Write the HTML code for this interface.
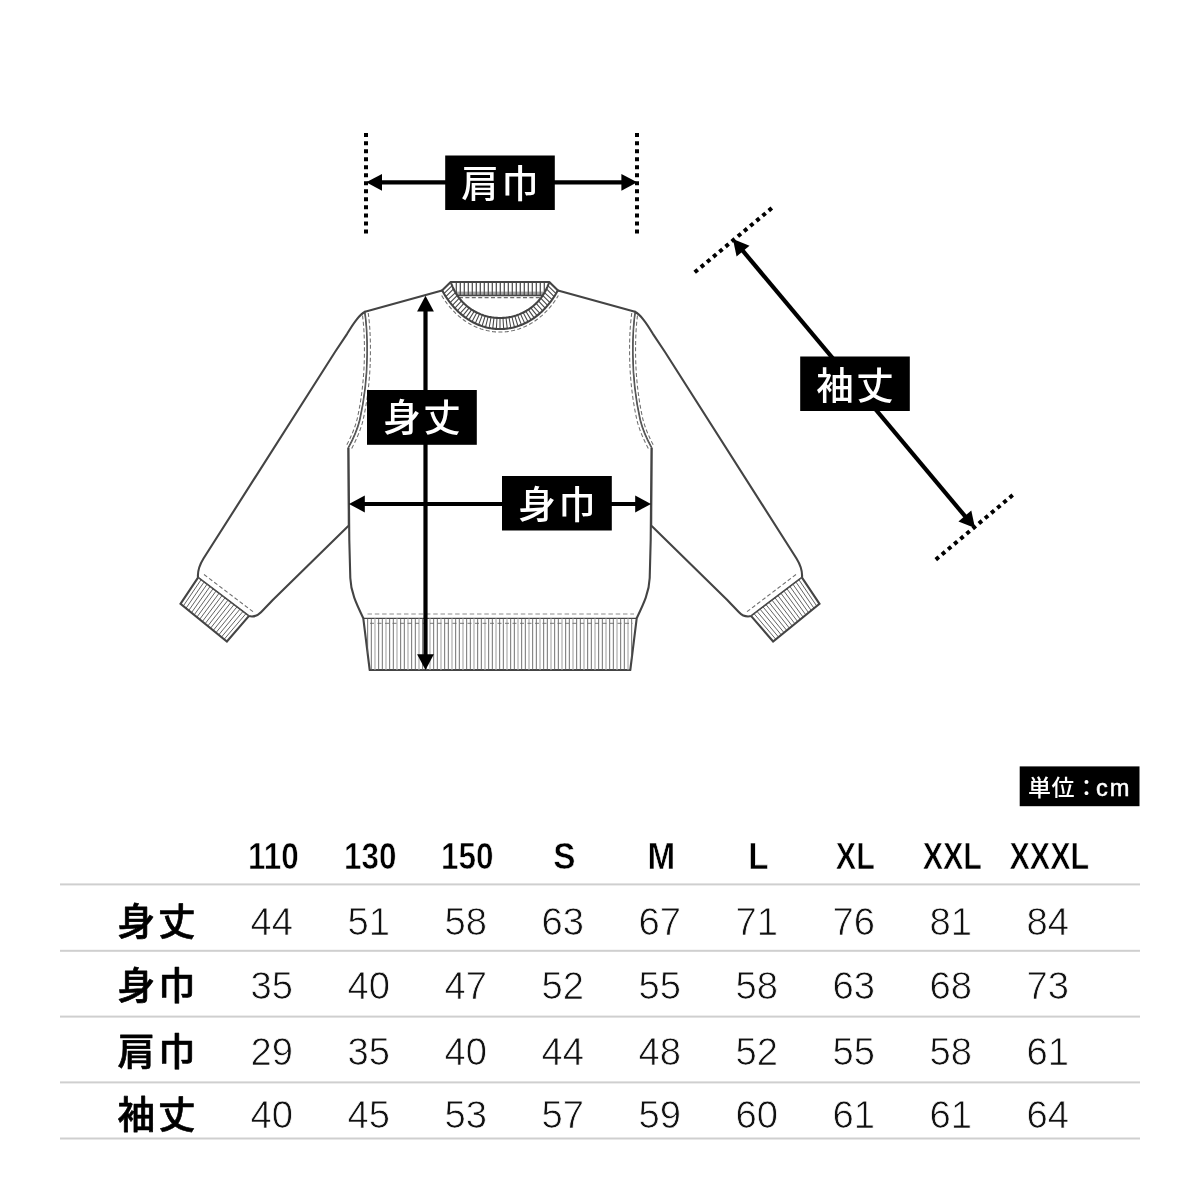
<!DOCTYPE html>
<html lang="ja">
<head>
<meta charset="utf-8">
<title>サイズ表</title>
<style>
html,body{margin:0;padding:0;background:#fff;}
body{width:1200px;height:1200px;overflow:hidden;font-family:"Liberation Sans", "Noto Sans CJK JP", sans-serif;}
svg{display:block;will-change:transform;filter:grayscale(1);}
svg text{font-family:"Liberation Sans", "Noto Sans CJK JP", sans-serif;}
</style>
</head>
<body>
<svg width="1200" height="1200" viewBox="0 0 1200 1200">
<rect width="1200" height="1200" fill="#fff"/>
<g id="garment">
<path d="M365,311.7 C361.5,313.5 359,316.5 356.8,319.3 C353,324 350,329 347.1,333.8 L335,352 L203.5,558.5 C199.5,565 197.3,570 198,577.6 L248.8,616.1 C254,617.3 258,615.5 261,612.3 C265,608 269,604 272.5,600.2 L348.8,525.5 L348.5,448 C354,438 358,428 360,420 C365,398 367.2,375 367.4,355 C367.6,340 367,325 365,311.7 Z" fill="#fff" stroke="#444" stroke-width="2.1" stroke-linejoin="round"/>
<path d="M198,577.6 L180.5,603.9 L226.9,641.5 L248.8,616.1 Z" fill="#fff" stroke="none"/>
<line x1="200.99" y1="579.86" x2="183.23" y2="606.11" stroke="#5a5a5a" stroke-width="0.95"/>
<line x1="203.98" y1="582.13" x2="185.96" y2="608.32" stroke="#5a5a5a" stroke-width="0.95"/>
<line x1="206.96" y1="584.39" x2="188.69" y2="610.54" stroke="#5a5a5a" stroke-width="0.95"/>
<line x1="209.95" y1="586.66" x2="191.42" y2="612.75" stroke="#5a5a5a" stroke-width="0.95"/>
<line x1="212.94" y1="588.92" x2="194.15" y2="614.96" stroke="#5a5a5a" stroke-width="0.95"/>
<line x1="215.93" y1="591.19" x2="196.88" y2="617.17" stroke="#5a5a5a" stroke-width="0.95"/>
<line x1="218.92" y1="593.45" x2="199.61" y2="619.38" stroke="#5a5a5a" stroke-width="0.95"/>
<line x1="221.91" y1="595.72" x2="202.34" y2="621.59" stroke="#5a5a5a" stroke-width="0.95"/>
<line x1="224.89" y1="597.98" x2="205.06" y2="623.81" stroke="#5a5a5a" stroke-width="0.95"/>
<line x1="227.88" y1="600.25" x2="207.79" y2="626.02" stroke="#5a5a5a" stroke-width="0.95"/>
<line x1="230.87" y1="602.51" x2="210.52" y2="628.23" stroke="#5a5a5a" stroke-width="0.95"/>
<line x1="233.86" y1="604.78" x2="213.25" y2="630.44" stroke="#5a5a5a" stroke-width="0.95"/>
<line x1="236.85" y1="607.04" x2="215.98" y2="632.65" stroke="#5a5a5a" stroke-width="0.95"/>
<line x1="239.84" y1="609.31" x2="218.71" y2="634.86" stroke="#5a5a5a" stroke-width="0.95"/>
<line x1="242.82" y1="611.57" x2="221.44" y2="637.08" stroke="#5a5a5a" stroke-width="0.95"/>
<line x1="245.81" y1="613.84" x2="224.17" y2="639.29" stroke="#5a5a5a" stroke-width="0.95"/>
<path d="M198,577.6 L248.8,616.1" fill="none" stroke="#444" stroke-width="1.1"/>
<path d="M198,577.6 L180.5,603.9 L226.9,641.5 L248.8,616.1" fill="none" stroke="#444" stroke-width="2.1" stroke-linejoin="miter"/>
<path d="M204,574.5 L253,611.7" fill="none" stroke="#6e6e6e" stroke-width="1.05" stroke-dasharray="4 2.4"/>
<g transform="translate(1000,0) scale(-1,1)"><path d="M365,311.7 C361.5,313.5 359,316.5 356.8,319.3 C353,324 350,329 347.1,333.8 L335,352 L203.5,558.5 C199.5,565 197.3,570 198,577.6 L248.8,616.1 C254,617.3 258,615.5 261,612.3 C265,608 269,604 272.5,600.2 L348.8,525.5 L348.5,448 C354,438 358,428 360,420 C365,398 367.2,375 367.4,355 C367.6,340 367,325 365,311.7 Z" fill="#fff" stroke="#444" stroke-width="2.1" stroke-linejoin="round"/>
<path d="M198,577.6 L180.5,603.9 L226.9,641.5 L248.8,616.1 Z" fill="#fff" stroke="none"/>
<line x1="200.99" y1="579.86" x2="183.23" y2="606.11" stroke="#5a5a5a" stroke-width="0.95"/>
<line x1="203.98" y1="582.13" x2="185.96" y2="608.32" stroke="#5a5a5a" stroke-width="0.95"/>
<line x1="206.96" y1="584.39" x2="188.69" y2="610.54" stroke="#5a5a5a" stroke-width="0.95"/>
<line x1="209.95" y1="586.66" x2="191.42" y2="612.75" stroke="#5a5a5a" stroke-width="0.95"/>
<line x1="212.94" y1="588.92" x2="194.15" y2="614.96" stroke="#5a5a5a" stroke-width="0.95"/>
<line x1="215.93" y1="591.19" x2="196.88" y2="617.17" stroke="#5a5a5a" stroke-width="0.95"/>
<line x1="218.92" y1="593.45" x2="199.61" y2="619.38" stroke="#5a5a5a" stroke-width="0.95"/>
<line x1="221.91" y1="595.72" x2="202.34" y2="621.59" stroke="#5a5a5a" stroke-width="0.95"/>
<line x1="224.89" y1="597.98" x2="205.06" y2="623.81" stroke="#5a5a5a" stroke-width="0.95"/>
<line x1="227.88" y1="600.25" x2="207.79" y2="626.02" stroke="#5a5a5a" stroke-width="0.95"/>
<line x1="230.87" y1="602.51" x2="210.52" y2="628.23" stroke="#5a5a5a" stroke-width="0.95"/>
<line x1="233.86" y1="604.78" x2="213.25" y2="630.44" stroke="#5a5a5a" stroke-width="0.95"/>
<line x1="236.85" y1="607.04" x2="215.98" y2="632.65" stroke="#5a5a5a" stroke-width="0.95"/>
<line x1="239.84" y1="609.31" x2="218.71" y2="634.86" stroke="#5a5a5a" stroke-width="0.95"/>
<line x1="242.82" y1="611.57" x2="221.44" y2="637.08" stroke="#5a5a5a" stroke-width="0.95"/>
<line x1="245.81" y1="613.84" x2="224.17" y2="639.29" stroke="#5a5a5a" stroke-width="0.95"/>
<path d="M198,577.6 L248.8,616.1" fill="none" stroke="#444" stroke-width="1.1"/>
<path d="M198,577.6 L180.5,603.9 L226.9,641.5 L248.8,616.1" fill="none" stroke="#444" stroke-width="2.1" stroke-linejoin="miter"/>
<path d="M204,574.5 L253,611.7" fill="none" stroke="#6e6e6e" stroke-width="1.05" stroke-dasharray="4 2.4"/></g>
<path d="M442,290.5 L365,311.7 C367,325 367.6,340 367.4,355 C367.2,375 365,398 360,420 C358,428 354,438 348.5,448 L349.3,540 L350.3,578 C350.8,592 356,603 363.3,618.3 L369.7,670 L630.3,670 L636.7,618.3 C644,603 649.2,592 649.7,578 L650.7,540 L651.5,448 C646,438 642,428 640,420 C635,398 632.8,375 632.6,355 C632.4,340 633,325 635,311.7 L558,290.5 L549.3,282 L450.7,282 Z" fill="#fff" stroke="none"/>
<g fill="none">
<path d="M365,311.7 C367,325 367.6,340 367.4,355 C367.2,375 365,398 360,420 C358,428 354,438 348.5,448" stroke="#5a5a5a" stroke-width="1.2"/>
<path d="M362.5,315.45 L362.71,317.12 L362.9,318.82 L363.09,320.53 L363.26,322.25 L363.42,323.99 L363.57,325.74 L363.7,327.51 L363.82,329.28 L363.93,331.07 L364.03,332.87 L364.12,334.67 L364.19,336.49 L364.26,338.31 L364.31,340.14 L364.36,341.98 L364.39,343.82 L364.42,345.67 L364.43,347.52 L364.44,349.38 L364.43,351.24 L364.42,353.1 L364.4,354.96 L364.37,357.46 L364.31,359.98 L364.23,362.53 L364.13,365.1 L364.01,367.7 L363.87,370.32 L363.7,372.97 L363.51,375.63 L363.3,378.3 L363.06,381 L362.8,383.71 L362.52,386.42 L362.21,389.15 L361.87,391.89 L361.51,394.64 L361.13,397.38 L360.72,400.14 L360.28,402.89 L359.81,405.64 L359.32,408.39 L358.8,411.14 L358.25,413.88 L357.68,416.61 L357.08,419.32 L356.84,420.24 L356.57,421.23 L356.28,422.24 L355.97,423.27 L355.64,424.32 L355.29,425.39 L354.92,426.48 L354.53,427.58 L354.12,428.69 L353.69,429.82 L353.25,430.96 L352.78,432.12 L352.3,433.28 L351.8,434.46 L351.29,435.64 L350.75,436.83 L350.2,438.03 L349.63,439.24 L349.04,440.45 L348.44,441.66 L347.82,442.88 L347.19,444.11 L346.54,445.33" stroke="#6e6e6e" stroke-width="1.05" stroke-dasharray="4 2.4"/>
<path d="M368.21,312.95 L368.45,314.67 L368.66,316.4 L368.87,318.15 L369.06,319.91 L369.23,321.68 L369.4,323.47 L369.55,325.27 L369.68,327.07 L369.81,328.89 L369.92,330.72 L370.02,332.56 L370.11,334.4 L370.19,336.26 L370.25,338.12 L370.31,339.98 L370.36,341.85 L370.39,343.73 L370.42,345.61 L370.43,347.49 L370.44,349.38 L370.43,351.26 L370.42,353.15 L370.4,355.04 L370.36,357.57 L370.31,360.14 L370.23,362.74 L370.13,365.36 L370,368.01 L369.86,370.68 L369.69,373.37 L369.5,376.08 L369.28,378.8 L369.04,381.55 L368.77,384.31 L368.48,387.08 L368.17,389.86 L367.83,392.65 L367.46,395.44 L367.07,398.25 L366.65,401.05 L366.2,403.86 L365.72,406.67 L365.22,409.48 L364.69,412.28 L364.13,415.08 L363.54,417.88 L362.92,420.68 L362.64,421.78 L362.35,422.85 L362.04,423.94 L361.7,425.04 L361.35,426.16 L360.98,427.3 L360.59,428.44 L360.17,429.61 L359.74,430.78 L359.29,431.97 L358.83,433.17 L358.34,434.38 L357.84,435.6 L357.31,436.83 L356.77,438.07 L356.21,439.32 L355.64,440.57 L355.04,441.82 L354.43,443.09 L353.8,444.35 L353.16,445.62 L352.5,446.9 L351.82,448.17 L351.14,449.43" stroke="#6e6e6e" stroke-width="1.05" stroke-dasharray="4 2.4"/>
<path d="M442,290.5 L365,311.7" stroke="#444" stroke-width="2.1" stroke-linecap="round"/>
<path d="M348.5,448 L349.3,540 L350.3,578 C350.8,592 356,603 363.3,618.3 L369.7,670 L500,670" stroke="#444" stroke-width="2.1" stroke-linejoin="round"/>
</g>
<g transform="translate(1000,0) scale(-1,1)" fill="none">
<path d="M365,311.7 C367,325 367.6,340 367.4,355 C367.2,375 365,398 360,420 C358,428 354,438 348.5,448" stroke="#5a5a5a" stroke-width="1.2"/>
<path d="M362.5,315.45 L362.71,317.12 L362.9,318.82 L363.09,320.53 L363.26,322.25 L363.42,323.99 L363.57,325.74 L363.7,327.51 L363.82,329.28 L363.93,331.07 L364.03,332.87 L364.12,334.67 L364.19,336.49 L364.26,338.31 L364.31,340.14 L364.36,341.98 L364.39,343.82 L364.42,345.67 L364.43,347.52 L364.44,349.38 L364.43,351.24 L364.42,353.1 L364.4,354.96 L364.37,357.46 L364.31,359.98 L364.23,362.53 L364.13,365.1 L364.01,367.7 L363.87,370.32 L363.7,372.97 L363.51,375.63 L363.3,378.3 L363.06,381 L362.8,383.71 L362.52,386.42 L362.21,389.15 L361.87,391.89 L361.51,394.64 L361.13,397.38 L360.72,400.14 L360.28,402.89 L359.81,405.64 L359.32,408.39 L358.8,411.14 L358.25,413.88 L357.68,416.61 L357.08,419.32 L356.84,420.24 L356.57,421.23 L356.28,422.24 L355.97,423.27 L355.64,424.32 L355.29,425.39 L354.92,426.48 L354.53,427.58 L354.12,428.69 L353.69,429.82 L353.25,430.96 L352.78,432.12 L352.3,433.28 L351.8,434.46 L351.29,435.64 L350.75,436.83 L350.2,438.03 L349.63,439.24 L349.04,440.45 L348.44,441.66 L347.82,442.88 L347.19,444.11 L346.54,445.33" stroke="#6e6e6e" stroke-width="1.05" stroke-dasharray="4 2.4"/>
<path d="M368.21,312.95 L368.45,314.67 L368.66,316.4 L368.87,318.15 L369.06,319.91 L369.23,321.68 L369.4,323.47 L369.55,325.27 L369.68,327.07 L369.81,328.89 L369.92,330.72 L370.02,332.56 L370.11,334.4 L370.19,336.26 L370.25,338.12 L370.31,339.98 L370.36,341.85 L370.39,343.73 L370.42,345.61 L370.43,347.49 L370.44,349.38 L370.43,351.26 L370.42,353.15 L370.4,355.04 L370.36,357.57 L370.31,360.14 L370.23,362.74 L370.13,365.36 L370,368.01 L369.86,370.68 L369.69,373.37 L369.5,376.08 L369.28,378.8 L369.04,381.55 L368.77,384.31 L368.48,387.08 L368.17,389.86 L367.83,392.65 L367.46,395.44 L367.07,398.25 L366.65,401.05 L366.2,403.86 L365.72,406.67 L365.22,409.48 L364.69,412.28 L364.13,415.08 L363.54,417.88 L362.92,420.68 L362.64,421.78 L362.35,422.85 L362.04,423.94 L361.7,425.04 L361.35,426.16 L360.98,427.3 L360.59,428.44 L360.17,429.61 L359.74,430.78 L359.29,431.97 L358.83,433.17 L358.34,434.38 L357.84,435.6 L357.31,436.83 L356.77,438.07 L356.21,439.32 L355.64,440.57 L355.04,441.82 L354.43,443.09 L353.8,444.35 L353.16,445.62 L352.5,446.9 L351.82,448.17 L351.14,449.43" stroke="#6e6e6e" stroke-width="1.05" stroke-dasharray="4 2.4"/>
<path d="M442,290.5 L365,311.7" stroke="#444" stroke-width="2.1" stroke-linecap="round"/>
<path d="M348.5,448 L349.3,540 L350.3,578 C350.8,592 356,603 363.3,618.3 L369.7,670 L500,670" stroke="#444" stroke-width="2.1" stroke-linejoin="round"/>
</g>
<path d="M363.3,618.3 L636.7,618.3" fill="none" stroke="#444" stroke-width="1.3"/>
<path d="M367.5,614 L634,614" fill="none" stroke="#8e8e8e" stroke-width="1.2" stroke-dasharray="4.5 2.8"/>
<line x1="367.65" y1="618.3" x2="367.65" y2="653.44" stroke="#585858" stroke-width="0.85"/>
<line x1="371.32" y1="618.3" x2="371.32" y2="670" stroke="#585858" stroke-width="0.85"/>
<line x1="374.98" y1="618.3" x2="374.98" y2="670" stroke="#a6a6a6" stroke-width="1.1"/>
<line x1="378.65" y1="618.3" x2="378.65" y2="670" stroke="#585858" stroke-width="0.85"/>
<line x1="382.32" y1="618.3" x2="382.32" y2="670" stroke="#585858" stroke-width="0.85"/>
<line x1="385.98" y1="618.3" x2="385.98" y2="670" stroke="#a6a6a6" stroke-width="1.1"/>
<line x1="389.65" y1="618.3" x2="389.65" y2="670" stroke="#585858" stroke-width="0.85"/>
<line x1="393.32" y1="618.3" x2="393.32" y2="670" stroke="#585858" stroke-width="0.85"/>
<line x1="396.99" y1="618.3" x2="396.99" y2="670" stroke="#a6a6a6" stroke-width="1.1"/>
<line x1="400.65" y1="618.3" x2="400.65" y2="670" stroke="#585858" stroke-width="0.85"/>
<line x1="404.32" y1="618.3" x2="404.32" y2="670" stroke="#585858" stroke-width="0.85"/>
<line x1="407.99" y1="618.3" x2="407.99" y2="670" stroke="#a6a6a6" stroke-width="1.1"/>
<line x1="411.65" y1="618.3" x2="411.65" y2="670" stroke="#585858" stroke-width="0.85"/>
<line x1="415.32" y1="618.3" x2="415.32" y2="670" stroke="#585858" stroke-width="0.85"/>
<line x1="418.99" y1="618.3" x2="418.99" y2="670" stroke="#a6a6a6" stroke-width="1.1"/>
<line x1="422.65" y1="618.3" x2="422.65" y2="670" stroke="#585858" stroke-width="0.85"/>
<line x1="426.32" y1="618.3" x2="426.32" y2="670" stroke="#585858" stroke-width="0.85"/>
<line x1="429.99" y1="618.3" x2="429.99" y2="670" stroke="#a6a6a6" stroke-width="1.1"/>
<line x1="433.66" y1="618.3" x2="433.66" y2="670" stroke="#585858" stroke-width="0.85"/>
<line x1="437.32" y1="618.3" x2="437.32" y2="670" stroke="#585858" stroke-width="0.85"/>
<line x1="440.99" y1="618.3" x2="440.99" y2="670" stroke="#a6a6a6" stroke-width="1.1"/>
<line x1="444.66" y1="618.3" x2="444.66" y2="670" stroke="#585858" stroke-width="0.85"/>
<line x1="448.32" y1="618.3" x2="448.32" y2="670" stroke="#585858" stroke-width="0.85"/>
<line x1="451.99" y1="618.3" x2="451.99" y2="670" stroke="#a6a6a6" stroke-width="1.1"/>
<line x1="455.66" y1="618.3" x2="455.66" y2="670" stroke="#585858" stroke-width="0.85"/>
<line x1="459.32" y1="618.3" x2="459.32" y2="670" stroke="#585858" stroke-width="0.85"/>
<line x1="462.99" y1="618.3" x2="462.99" y2="670" stroke="#a6a6a6" stroke-width="1.1"/>
<line x1="466.66" y1="618.3" x2="466.66" y2="670" stroke="#585858" stroke-width="0.85"/>
<line x1="470.33" y1="618.3" x2="470.33" y2="670" stroke="#585858" stroke-width="0.85"/>
<line x1="473.99" y1="618.3" x2="473.99" y2="670" stroke="#a6a6a6" stroke-width="1.1"/>
<line x1="477.66" y1="618.3" x2="477.66" y2="670" stroke="#585858" stroke-width="0.85"/>
<line x1="481.33" y1="618.3" x2="481.33" y2="670" stroke="#585858" stroke-width="0.85"/>
<line x1="484.99" y1="618.3" x2="484.99" y2="670" stroke="#a6a6a6" stroke-width="1.1"/>
<line x1="488.66" y1="618.3" x2="488.66" y2="670" stroke="#585858" stroke-width="0.85"/>
<line x1="492.33" y1="618.3" x2="492.33" y2="670" stroke="#585858" stroke-width="0.85"/>
<line x1="496" y1="618.3" x2="496" y2="670" stroke="#a6a6a6" stroke-width="1.1"/>
<line x1="499.66" y1="618.3" x2="499.66" y2="670" stroke="#585858" stroke-width="0.85"/>
<line x1="503.33" y1="618.3" x2="503.33" y2="670" stroke="#585858" stroke-width="0.85"/>
<line x1="507" y1="618.3" x2="507" y2="670" stroke="#a6a6a6" stroke-width="1.1"/>
<line x1="510.66" y1="618.3" x2="510.66" y2="670" stroke="#585858" stroke-width="0.85"/>
<line x1="514.33" y1="618.3" x2="514.33" y2="670" stroke="#585858" stroke-width="0.85"/>
<line x1="518" y1="618.3" x2="518" y2="670" stroke="#a6a6a6" stroke-width="1.1"/>
<line x1="521.66" y1="618.3" x2="521.66" y2="670" stroke="#585858" stroke-width="0.85"/>
<line x1="525.33" y1="618.3" x2="525.33" y2="670" stroke="#585858" stroke-width="0.85"/>
<line x1="529" y1="618.3" x2="529" y2="670" stroke="#a6a6a6" stroke-width="1.1"/>
<line x1="532.66" y1="618.3" x2="532.66" y2="670" stroke="#585858" stroke-width="0.85"/>
<line x1="536.33" y1="618.3" x2="536.33" y2="670" stroke="#585858" stroke-width="0.85"/>
<line x1="540" y1="618.3" x2="540" y2="670" stroke="#a6a6a6" stroke-width="1.1"/>
<line x1="543.67" y1="618.3" x2="543.67" y2="670" stroke="#585858" stroke-width="0.85"/>
<line x1="547.33" y1="618.3" x2="547.33" y2="670" stroke="#585858" stroke-width="0.85"/>
<line x1="551" y1="618.3" x2="551" y2="670" stroke="#a6a6a6" stroke-width="1.1"/>
<line x1="554.67" y1="618.3" x2="554.67" y2="670" stroke="#585858" stroke-width="0.85"/>
<line x1="558.33" y1="618.3" x2="558.33" y2="670" stroke="#585858" stroke-width="0.85"/>
<line x1="562" y1="618.3" x2="562" y2="670" stroke="#a6a6a6" stroke-width="1.1"/>
<line x1="565.67" y1="618.3" x2="565.67" y2="670" stroke="#585858" stroke-width="0.85"/>
<line x1="569.34" y1="618.3" x2="569.34" y2="670" stroke="#585858" stroke-width="0.85"/>
<line x1="573" y1="618.3" x2="573" y2="670" stroke="#a6a6a6" stroke-width="1.1"/>
<line x1="576.67" y1="618.3" x2="576.67" y2="670" stroke="#585858" stroke-width="0.85"/>
<line x1="580.34" y1="618.3" x2="580.34" y2="670" stroke="#585858" stroke-width="0.85"/>
<line x1="584" y1="618.3" x2="584" y2="670" stroke="#a6a6a6" stroke-width="1.1"/>
<line x1="587.67" y1="618.3" x2="587.67" y2="670" stroke="#585858" stroke-width="0.85"/>
<line x1="591.34" y1="618.3" x2="591.34" y2="670" stroke="#585858" stroke-width="0.85"/>
<line x1="595" y1="618.3" x2="595" y2="670" stroke="#a6a6a6" stroke-width="1.1"/>
<line x1="598.67" y1="618.3" x2="598.67" y2="670" stroke="#585858" stroke-width="0.85"/>
<line x1="602.34" y1="618.3" x2="602.34" y2="670" stroke="#585858" stroke-width="0.85"/>
<line x1="606" y1="618.3" x2="606" y2="670" stroke="#a6a6a6" stroke-width="1.1"/>
<line x1="609.67" y1="618.3" x2="609.67" y2="670" stroke="#585858" stroke-width="0.85"/>
<line x1="613.34" y1="618.3" x2="613.34" y2="670" stroke="#585858" stroke-width="0.85"/>
<line x1="617.01" y1="618.3" x2="617.01" y2="670" stroke="#a6a6a6" stroke-width="1.1"/>
<line x1="620.67" y1="618.3" x2="620.67" y2="670" stroke="#585858" stroke-width="0.85"/>
<line x1="624.34" y1="618.3" x2="624.34" y2="670" stroke="#585858" stroke-width="0.85"/>
<line x1="628.01" y1="618.3" x2="628.01" y2="670" stroke="#a6a6a6" stroke-width="1.1"/>
<line x1="631.67" y1="618.3" x2="631.67" y2="658.9" stroke="#585858" stroke-width="0.85"/>
<path d="M370,623.3 L633,623.3" fill="none" stroke="#6a6a6a" stroke-width="0.9" stroke-dasharray="4 3.5"/>
<path d="M450.7,282 L549.3,282 L543,295.5 L457,295.5 Z" fill="#fff" stroke="none"/>
<rect x="457" y="291.6" width="86" height="3.6" fill="#a5a5a5"/>
<line x1="456.3" y1="282" x2="456.3" y2="295.5" stroke="#4c4c4c" stroke-width="1.25"/>
<line x1="460.3" y1="282" x2="460.3" y2="295.5" stroke="#4c4c4c" stroke-width="1.25"/>
<line x1="464.3" y1="282" x2="464.3" y2="295.5" stroke="#4c4c4c" stroke-width="1.25"/>
<line x1="468.3" y1="282" x2="468.3" y2="295.5" stroke="#4c4c4c" stroke-width="1.25"/>
<line x1="472.3" y1="282" x2="472.3" y2="295.5" stroke="#4c4c4c" stroke-width="1.25"/>
<line x1="476.3" y1="282" x2="476.3" y2="295.5" stroke="#4c4c4c" stroke-width="1.25"/>
<line x1="480.3" y1="282" x2="480.3" y2="295.5" stroke="#4c4c4c" stroke-width="1.25"/>
<line x1="484.3" y1="282" x2="484.3" y2="295.5" stroke="#4c4c4c" stroke-width="1.25"/>
<line x1="488.3" y1="282" x2="488.3" y2="295.5" stroke="#4c4c4c" stroke-width="1.25"/>
<line x1="492.3" y1="282" x2="492.3" y2="295.5" stroke="#4c4c4c" stroke-width="1.25"/>
<line x1="496.3" y1="282" x2="496.3" y2="295.5" stroke="#4c4c4c" stroke-width="1.25"/>
<line x1="500.3" y1="282" x2="500.3" y2="295.5" stroke="#4c4c4c" stroke-width="1.25"/>
<line x1="504.3" y1="282" x2="504.3" y2="295.5" stroke="#4c4c4c" stroke-width="1.25"/>
<line x1="508.3" y1="282" x2="508.3" y2="295.5" stroke="#4c4c4c" stroke-width="1.25"/>
<line x1="512.3" y1="282" x2="512.3" y2="295.5" stroke="#4c4c4c" stroke-width="1.25"/>
<line x1="516.3" y1="282" x2="516.3" y2="295.5" stroke="#4c4c4c" stroke-width="1.25"/>
<line x1="520.3" y1="282" x2="520.3" y2="295.5" stroke="#4c4c4c" stroke-width="1.25"/>
<line x1="524.3" y1="282" x2="524.3" y2="295.5" stroke="#4c4c4c" stroke-width="1.25"/>
<line x1="528.3" y1="282" x2="528.3" y2="295.5" stroke="#4c4c4c" stroke-width="1.25"/>
<line x1="532.3" y1="282" x2="532.3" y2="295.5" stroke="#4c4c4c" stroke-width="1.25"/>
<line x1="536.3" y1="282" x2="536.3" y2="295.5" stroke="#4c4c4c" stroke-width="1.25"/>
<line x1="540.3" y1="282" x2="540.3" y2="295.5" stroke="#4c4c4c" stroke-width="1.25"/>
<line x1="544.3" y1="282" x2="544.3" y2="295.5" stroke="#4c4c4c" stroke-width="1.25"/>
<path d="M450.7,282 L549.3,282" fill="none" stroke="#444" stroke-width="2.1"/>
<path d="M456,295.5 L544,295.5" fill="none" stroke="#444" stroke-width="1.5"/>
<path d="M459,297.6 L541,297.6" fill="none" stroke="#6e6e6e" stroke-width="1.05" stroke-dasharray="4 2.4"/>
<path d="M442.09,290.35 L442.79,291.6 L443.5,292.83 L444.21,294.04 L444.94,295.22 L445.68,296.38 L446.43,297.53 L447.19,298.65 L447.96,299.75 L448.74,300.82 L449.53,301.88 L450.33,302.92 L451.15,303.94 L451.97,304.94 L452.8,305.91 L453.64,306.87 L454.49,307.81 L455.35,308.73 L456.22,309.63 L457.1,310.51 L457.99,311.37 L458.89,312.22 L459.8,313.04 L460.72,313.84 L461.65,314.63 L462.58,315.39 L463.53,316.14 L464.49,316.87 L465.45,317.57 L466.43,318.26 L467.41,318.93 L468.4,319.58 L469.4,320.2 L470.41,320.81 L471.43,321.4 L472.46,321.97 L473.49,322.51 L474.53,323.04 L475.58,323.54 L476.64,324.03 L477.7,324.49 L478.77,324.93 L479.85,325.35 L480.93,325.75 L482.02,326.12 L483.11,326.48 L484.21,326.81 L485.32,327.12 L486.43,327.4 L487.54,327.67 L488.66,327.91 L489.79,328.13 L490.91,328.33 L492.04,328.5 L493.17,328.65 L494.31,328.78 L495.44,328.88 L496.58,328.97 L497.72,329.02 L498.86,329.06 L500,329.07 L501.14,329.06 L502.28,329.02 L503.42,328.97 L504.56,328.88 L505.69,328.78 L506.83,328.65 L507.96,328.5 L509.09,328.33 L510.21,328.13 L511.34,327.91 L512.46,327.67 L513.57,327.4 L514.68,327.12 L515.79,326.81 L516.89,326.48 L517.98,326.12 L519.07,325.75 L520.15,325.35 L521.23,324.93 L522.3,324.49 L523.36,324.03 L524.42,323.54 L525.47,323.04 L526.51,322.51 L527.54,321.97 L528.57,321.4 L529.59,320.81 L530.6,320.2 L531.6,319.58 L532.59,318.93 L533.57,318.26 L534.55,317.57 L535.51,316.87 L536.47,316.14 L537.42,315.39 L538.35,314.63 L539.28,313.84 L540.2,313.04 L541.11,312.22 L542.01,311.37 L542.9,310.51 L543.78,309.63 L544.65,308.73 L545.51,307.81 L546.36,306.87 L547.2,305.91 L548.03,304.94 L548.85,303.94 L549.67,302.92 L550.47,301.88 L551.26,300.82 L552.04,299.75 L552.81,298.65 L553.57,297.53 L554.32,296.38 L555.06,295.22 L555.79,294.04 L556.5,292.83 L557.21,291.6 L557.91,290.35 L549.1,282.3 L548.69,283.52 L548.25,284.72 L547.78,285.91 L547.3,287.07 L546.78,288.21 L546.25,289.34 L545.69,290.44 L545.11,291.52 L544.5,292.58 L543.88,293.61 L543.24,294.63 L542.58,295.62 L541.9,296.59 L541.21,297.54 L540.49,298.46 L539.77,299.37 L539.02,300.25 L538.27,301.1 L537.5,301.94 L536.71,302.75 L535.91,303.54 L535.11,304.31 L534.29,305.05 L533.46,305.77 L532.62,306.47 L531.77,307.15 L530.91,307.8 L530.04,308.44 L529.16,309.05 L528.28,309.64 L527.39,310.2 L526.49,310.75 L525.59,311.27 L524.68,311.78 L523.77,312.26 L522.85,312.72 L521.93,313.16 L521,313.58 L520.07,313.98 L519.13,314.37 L518.19,314.73 L517.25,315.07 L516.31,315.39 L515.36,315.69 L514.41,315.97 L513.46,316.24 L512.5,316.48 L511.55,316.71 L510.59,316.92 L509.63,317.11 L508.67,317.28 L507.71,317.43 L506.75,317.56 L505.79,317.68 L504.82,317.78 L503.86,317.86 L502.9,317.92 L501.93,317.96 L500.97,317.99 L500,318 L499.03,317.99 L498.07,317.96 L497.1,317.92 L496.14,317.86 L495.18,317.78 L494.21,317.68 L493.25,317.56 L492.29,317.43 L491.33,317.28 L490.37,317.11 L489.41,316.92 L488.45,316.71 L487.5,316.48 L486.54,316.24 L485.59,315.97 L484.64,315.69 L483.69,315.39 L482.75,315.07 L481.81,314.73 L480.87,314.37 L479.93,313.98 L479,313.58 L478.07,313.16 L477.15,312.72 L476.23,312.26 L475.32,311.78 L474.41,311.27 L473.51,310.75 L472.61,310.2 L471.72,309.64 L470.84,309.05 L469.96,308.44 L469.09,307.8 L468.23,307.15 L467.38,306.47 L466.54,305.77 L465.71,305.05 L464.89,304.31 L464.09,303.54 L463.29,302.75 L462.5,301.94 L461.73,301.1 L460.98,300.25 L460.23,299.37 L459.51,298.46 L458.79,297.54 L458.1,296.59 L457.42,295.62 L456.76,294.63 L456.12,293.61 L455.5,292.58 L454.89,291.52 L454.31,290.44 L453.75,289.34 L453.22,288.21 L452.7,287.07 L452.22,285.91 L451.75,284.72 L451.31,283.52 L450.9,282.3 Z" fill="#fff" stroke="none"/>
<line x1="443.91" y1="293.52" x2="452.13" y2="285.63" stroke="#444" stroke-width="1.05"/>
<line x1="445.84" y1="296.63" x2="453.57" y2="288.88" stroke="#444" stroke-width="1.05"/>
<line x1="447.9" y1="299.66" x2="455.5" y2="292.53" stroke="#444" stroke-width="1.05"/>
<line x1="450.08" y1="302.59" x2="457.31" y2="295.42" stroke="#444" stroke-width="1.05"/>
<line x1="452.39" y1="305.43" x2="459.31" y2="298.18" stroke="#444" stroke-width="1.05"/>
<line x1="454.82" y1="308.17" x2="461.59" y2="300.94" stroke="#444" stroke-width="1.05"/>
<line x1="457.38" y1="310.78" x2="463.85" y2="303.31" stroke="#444" stroke-width="1.05"/>
<line x1="460.06" y1="313.27" x2="466.85" y2="306.03" stroke="#444" stroke-width="1.05"/>
<line x1="462.87" y1="315.62" x2="469.21" y2="307.89" stroke="#444" stroke-width="1.05"/>
<line x1="465.79" y1="317.82" x2="471.66" y2="309.6" stroke="#444" stroke-width="1.05"/>
<line x1="468.84" y1="319.85" x2="474.22" y2="311.16" stroke="#444" stroke-width="1.05"/>
<line x1="471.99" y1="321.71" x2="476.86" y2="312.58" stroke="#444" stroke-width="1.05"/>
<line x1="475.24" y1="323.38" x2="479.58" y2="313.83" stroke="#444" stroke-width="1.05"/>
<line x1="478.59" y1="324.86" x2="482.37" y2="314.93" stroke="#444" stroke-width="1.05"/>
<line x1="482.02" y1="326.12" x2="485.22" y2="315.86" stroke="#444" stroke-width="1.05"/>
<line x1="485.53" y1="327.17" x2="488.12" y2="316.63" stroke="#444" stroke-width="1.05"/>
<line x1="489.09" y1="328" x2="491.05" y2="317.23" stroke="#444" stroke-width="1.05"/>
<line x1="492.7" y1="328.59" x2="494.02" y2="317.66" stroke="#444" stroke-width="1.05"/>
<line x1="496.34" y1="328.95" x2="497" y2="317.91" stroke="#444" stroke-width="1.05"/>
<line x1="500" y1="329.07" x2="500" y2="318" stroke="#444" stroke-width="1.05"/>
<line x1="503.66" y1="328.95" x2="503" y2="317.91" stroke="#444" stroke-width="1.05"/>
<line x1="507.3" y1="328.59" x2="505.98" y2="317.66" stroke="#444" stroke-width="1.05"/>
<line x1="510.91" y1="328" x2="508.95" y2="317.23" stroke="#444" stroke-width="1.05"/>
<line x1="514.47" y1="327.17" x2="511.88" y2="316.63" stroke="#444" stroke-width="1.05"/>
<line x1="517.98" y1="326.12" x2="514.78" y2="315.86" stroke="#444" stroke-width="1.05"/>
<line x1="521.41" y1="324.86" x2="517.63" y2="314.93" stroke="#444" stroke-width="1.05"/>
<line x1="524.76" y1="323.38" x2="520.42" y2="313.83" stroke="#444" stroke-width="1.05"/>
<line x1="528.01" y1="321.71" x2="523.14" y2="312.58" stroke="#444" stroke-width="1.05"/>
<line x1="531.16" y1="319.85" x2="525.78" y2="311.16" stroke="#444" stroke-width="1.05"/>
<line x1="534.21" y1="317.82" x2="528.34" y2="309.6" stroke="#444" stroke-width="1.05"/>
<line x1="537.13" y1="315.62" x2="530.79" y2="307.89" stroke="#444" stroke-width="1.05"/>
<line x1="539.94" y1="313.27" x2="533.15" y2="306.03" stroke="#444" stroke-width="1.05"/>
<line x1="542.62" y1="310.78" x2="536.15" y2="303.31" stroke="#444" stroke-width="1.05"/>
<line x1="545.18" y1="308.17" x2="538.41" y2="300.94" stroke="#444" stroke-width="1.05"/>
<line x1="547.61" y1="305.43" x2="540.69" y2="298.18" stroke="#444" stroke-width="1.05"/>
<line x1="549.92" y1="302.59" x2="542.69" y2="295.42" stroke="#444" stroke-width="1.05"/>
<line x1="552.1" y1="299.66" x2="544.5" y2="292.53" stroke="#444" stroke-width="1.05"/>
<line x1="554.16" y1="296.63" x2="546.43" y2="288.88" stroke="#444" stroke-width="1.05"/>
<line x1="556.09" y1="293.52" x2="547.87" y2="285.63" stroke="#444" stroke-width="1.05"/>
<path d="M442.09,290.35 L442.79,291.6 L443.5,292.83 L444.21,294.04 L444.94,295.22 L445.68,296.38 L446.43,297.53 L447.19,298.65 L447.96,299.75 L448.74,300.82 L449.53,301.88 L450.33,302.92 L451.15,303.94 L451.97,304.94 L452.8,305.91 L453.64,306.87 L454.49,307.81 L455.35,308.73 L456.22,309.63 L457.1,310.51 L457.99,311.37 L458.89,312.22 L459.8,313.04 L460.72,313.84 L461.65,314.63 L462.58,315.39 L463.53,316.14 L464.49,316.87 L465.45,317.57 L466.43,318.26 L467.41,318.93 L468.4,319.58 L469.4,320.2 L470.41,320.81 L471.43,321.4 L472.46,321.97 L473.49,322.51 L474.53,323.04 L475.58,323.54 L476.64,324.03 L477.7,324.49 L478.77,324.93 L479.85,325.35 L480.93,325.75 L482.02,326.12 L483.11,326.48 L484.21,326.81 L485.32,327.12 L486.43,327.4 L487.54,327.67 L488.66,327.91 L489.79,328.13 L490.91,328.33 L492.04,328.5 L493.17,328.65 L494.31,328.78 L495.44,328.88 L496.58,328.97 L497.72,329.02 L498.86,329.06 L500,329.07 L501.14,329.06 L502.28,329.02 L503.42,328.97 L504.56,328.88 L505.69,328.78 L506.83,328.65 L507.96,328.5 L509.09,328.33 L510.21,328.13 L511.34,327.91 L512.46,327.67 L513.57,327.4 L514.68,327.12 L515.79,326.81 L516.89,326.48 L517.98,326.12 L519.07,325.75 L520.15,325.35 L521.23,324.93 L522.3,324.49 L523.36,324.03 L524.42,323.54 L525.47,323.04 L526.51,322.51 L527.54,321.97 L528.57,321.4 L529.59,320.81 L530.6,320.2 L531.6,319.58 L532.59,318.93 L533.57,318.26 L534.55,317.57 L535.51,316.87 L536.47,316.14 L537.42,315.39 L538.35,314.63 L539.28,313.84 L540.2,313.04 L541.11,312.22 L542.01,311.37 L542.9,310.51 L543.78,309.63 L544.65,308.73 L545.51,307.81 L546.36,306.87 L547.2,305.91 L548.03,304.94 L548.85,303.94 L549.67,302.92 L550.47,301.88 L551.26,300.82 L552.04,299.75 L552.81,298.65 L553.57,297.53 L554.32,296.38 L555.06,295.22 L555.79,294.04 L556.5,292.83 L557.21,291.6 L557.91,290.35" fill="none" stroke="#444" stroke-width="2.1" stroke-linejoin="round"/>
<path d="M450.9,282.3 L451.31,283.52 L451.75,284.72 L452.22,285.91 L452.7,287.07 L453.22,288.21 L453.75,289.34 L454.31,290.44 L454.89,291.52 L455.5,292.58 L456.12,293.61 L456.76,294.63 L457.42,295.62 L458.1,296.59 L458.79,297.54 L459.51,298.46 L460.23,299.37 L460.98,300.25 L461.73,301.1 L462.5,301.94 L463.29,302.75 L464.09,303.54 L464.89,304.31 L465.71,305.05 L466.54,305.77 L467.38,306.47 L468.23,307.15 L469.09,307.8 L469.96,308.44 L470.84,309.05 L471.72,309.64 L472.61,310.2 L473.51,310.75 L474.41,311.27 L475.32,311.78 L476.23,312.26 L477.15,312.72 L478.07,313.16 L479,313.58 L479.93,313.98 L480.87,314.37 L481.81,314.73 L482.75,315.07 L483.69,315.39 L484.64,315.69 L485.59,315.97 L486.54,316.24 L487.5,316.48 L488.45,316.71 L489.41,316.92 L490.37,317.11 L491.33,317.28 L492.29,317.43 L493.25,317.56 L494.21,317.68 L495.18,317.78 L496.14,317.86 L497.1,317.92 L498.07,317.96 L499.03,317.99 L500,318 L500.97,317.99 L501.93,317.96 L502.9,317.92 L503.86,317.86 L504.82,317.78 L505.79,317.68 L506.75,317.56 L507.71,317.43 L508.67,317.28 L509.63,317.11 L510.59,316.92 L511.55,316.71 L512.5,316.48 L513.46,316.24 L514.41,315.97 L515.36,315.69 L516.31,315.39 L517.25,315.07 L518.19,314.73 L519.13,314.37 L520.07,313.98 L521,313.58 L521.93,313.16 L522.85,312.72 L523.77,312.26 L524.68,311.78 L525.59,311.27 L526.49,310.75 L527.39,310.2 L528.28,309.64 L529.16,309.05 L530.04,308.44 L530.91,307.8 L531.77,307.15 L532.62,306.47 L533.46,305.77 L534.29,305.05 L535.11,304.31 L535.91,303.54 L536.71,302.75 L537.5,301.94 L538.27,301.1 L539.02,300.25 L539.77,299.37 L540.49,298.46 L541.21,297.54 L541.9,296.59 L542.58,295.62 L543.24,294.63 L543.88,293.61 L544.5,292.58 L545.11,291.52 L545.69,290.44 L546.25,289.34 L546.78,288.21 L547.3,287.07 L547.78,285.91 L548.25,284.72 L548.69,283.52 L549.1,282.3" fill="none" stroke="#444" stroke-width="2.1" stroke-linejoin="round"/>
<path d="M450.7,282 L442,290.5 M549.3,282 L558,290.5" fill="none" stroke="#444" stroke-width="2.1" stroke-linecap="round"/>
<path d="M441.65,295.59 L442.4,296.81 L443.16,298.01 L443.94,299.19 L444.72,300.35 L445.52,301.49 L446.33,302.6 L447.14,303.7 L447.97,304.77 L448.81,305.83 L449.66,306.86 L450.53,307.87 L451.4,308.87 L452.28,309.84 L453.18,310.8 L454.08,311.73 L455,312.65 L455.92,313.55 L456.86,314.42 L457.8,315.28 L458.76,316.12 L459.73,316.94 L460.71,317.73 L461.69,318.51 L462.69,319.27 L463.7,320.01 L464.72,320.73 L465.75,321.43 L466.78,322.1 L467.83,322.76 L468.89,323.4 L469.95,324.01 L471.03,324.61 L472.11,325.18 L473.2,325.73 L474.3,326.26 L475.41,326.77 L476.53,327.25 L477.65,327.71 L478.78,328.15 L479.92,328.57 L481.07,328.97 L482.22,329.34 L483.38,329.69 L484.54,330.01 L485.71,330.32 L486.88,330.6 L488.06,330.85 L489.24,331.08 L490.43,331.29 L491.62,331.47 L492.81,331.63 L494,331.76 L495.2,331.87 L496.4,331.96 L497.6,332.02 L498.8,332.06 L500,332.07 L501.2,332.06 L502.4,332.02 L503.6,331.96 L504.8,331.87 L506,331.76 L507.19,331.63 L508.38,331.47 L509.57,331.29 L510.76,331.08 L511.94,330.85 L513.12,330.6 L514.29,330.32 L515.46,330.01 L516.62,329.69 L517.78,329.34 L518.93,328.97 L520.08,328.57 L521.22,328.15 L522.35,327.71 L523.47,327.25 L524.59,326.77 L525.7,326.26 L526.8,325.73 L527.89,325.18 L528.97,324.61 L530.05,324.01 L531.11,323.4 L532.17,322.76 L533.22,322.1 L534.25,321.43 L535.28,320.73 L536.3,320.01 L537.31,319.27 L538.31,318.51 L539.29,317.73 L540.27,316.94 L541.24,316.12 L542.2,315.28 L543.14,314.42 L544.08,313.55 L545,312.65 L545.92,311.73 L546.82,310.8 L547.72,309.84 L548.6,308.87 L549.47,307.87 L550.34,306.86 L551.19,305.83 L552.03,304.77 L552.86,303.7 L553.67,302.6 L554.48,301.49 L555.28,300.35 L556.06,299.19 L556.84,298.01 L557.6,296.81 L558.35,295.59" fill="none" stroke="#6e6e6e" stroke-width="1.05" stroke-dasharray="4 2.4"/>
</g>
<g id="measure">
<line x1="366" y1="133.1" x2="366" y2="233.6" stroke="#000" stroke-width="4" stroke-dasharray="4 4.03"/>
<line x1="637" y1="133.1" x2="637" y2="233.6" stroke="#000" stroke-width="4" stroke-dasharray="4 4.03"/>
<line x1="378.84" y1="182.3" x2="624.56" y2="182.3" stroke="#000" stroke-width="4.2"/><polygon points="366.2,182.3 382,190.7 382,173.9" fill="#000"/><polygon points="637.2,182.3 621.4,190.7 621.4,173.9" fill="#000"/>
<rect x="445.2" y="155.5" width="109.6" height="54.5" fill="#000"/><text x="501.25" y="197.29" text-anchor="middle" font-size="37.5" font-weight="500" letter-spacing="2.5" fill="#fff">肩巾</text>
<line x1="425.5" y1="308.44" x2="425.5" y2="657.36" stroke="#000" stroke-width="4.2"/><polygon points="425.5,295.8 417.1,311.6 433.9,311.6" fill="#000"/><polygon points="425.5,670 417.1,654.2 433.9,654.2" fill="#000"/>
<rect x="367" y="390" width="109.8" height="54.8" fill="#000"/><text x="423.15" y="430.64" text-anchor="middle" font-size="37.5" font-weight="500" letter-spacing="2.5" fill="#fff">身丈</text>
<line x1="361.64" y1="504" x2="638.36" y2="504" stroke="#000" stroke-width="4.2"/><polygon points="349,504 364.8,512.4 364.8,495.6" fill="#000"/><polygon points="651,504 635.2,512.4 635.2,495.6" fill="#000"/>
<rect x="502" y="476" width="109.8" height="54.5" fill="#000"/><text x="558.15" y="518.49" text-anchor="middle" font-size="37.5" font-weight="500" letter-spacing="2.5" fill="#fff">身巾</text>
<line x1="694.7" y1="272.3" x2="772" y2="207.9" stroke="#000" stroke-width="4" stroke-dasharray="4 4.03"/>
<line x1="935.8" y1="559.6" x2="1012.9" y2="494.9" stroke="#000" stroke-width="4" stroke-dasharray="4 4.03"/>
<line x1="741.02" y1="248.69" x2="966.88" y2="518.41" stroke="#000" stroke-width="4.2"/><polygon points="732.9,239 736.6,256.51 749.48,245.72" fill="#000"/><polygon points="975,528.1 958.42,521.38 971.3,510.59" fill="#000"/>
<rect x="800.2" y="356.5" width="109.6" height="54.5" fill="#000"/><text x="856.25" y="398.99" text-anchor="middle" font-size="37.5" font-weight="500" letter-spacing="2.5" fill="#fff">袖丈</text>
</g>
<g id="table">
<rect x="1019.7" y="766.4" width="119.8" height="39.8" fill="#000"/>
<text x="1028.1" y="795.6" font-size="23" font-weight="500" letter-spacing="0.5" fill="#fff">単位：<tspan x="1095.9" font-size="23.6" letter-spacing="2" stroke="#fff" stroke-width="0.5">cm</tspan></text>
<rect x="60" y="883.4" width="1080" height="2" fill="#cfcfcf"/>
<rect x="60" y="949.8" width="1080" height="2" fill="#cfcfcf"/>
<rect x="60" y="1015.6" width="1080" height="2" fill="#cfcfcf"/>
<rect x="60" y="1081.4" width="1080" height="2" fill="#cfcfcf"/>
<rect x="60" y="1137.5" width="1080" height="2" fill="#cfcfcf"/>
<text transform="translate(273.3,869.2) scale(0.85,1)" text-anchor="middle" font-size="37" font-weight="700" fill="#000" stroke="#fff" stroke-width="0.6">110</text>
<text transform="translate(370.3,869.2) scale(0.85,1)" text-anchor="middle" font-size="37" font-weight="700" fill="#000" stroke="#fff" stroke-width="0.6">130</text>
<text transform="translate(467.3,869.2) scale(0.85,1)" text-anchor="middle" font-size="37" font-weight="700" fill="#000" stroke="#fff" stroke-width="0.6">150</text>
<text transform="translate(564.3,869.2) scale(0.9,1)" text-anchor="middle" font-size="37" font-weight="700" fill="#000" stroke="#fff" stroke-width="0.6">S</text>
<text transform="translate(661.3,869.2) scale(0.9,1)" text-anchor="middle" font-size="37" font-weight="700" fill="#000" stroke="#fff" stroke-width="0.6">M</text>
<text transform="translate(758.3,869.2) scale(0.9,1)" text-anchor="middle" font-size="37" font-weight="700" fill="#000" stroke="#fff" stroke-width="0.6">L</text>
<text transform="translate(855.3,869.2) scale(0.823,1)" text-anchor="middle" font-size="37" font-weight="700" fill="#000" stroke="#fff" stroke-width="0.6">XL</text>
<text transform="translate(952.3,869.2) scale(0.823,1)" text-anchor="middle" font-size="37" font-weight="700" fill="#000" stroke="#fff" stroke-width="0.6">XXL</text>
<text transform="translate(1049.3,869.2) scale(0.823,1)" text-anchor="middle" font-size="37" font-weight="700" fill="#000" stroke="#fff" stroke-width="0.6">XXXL</text>
<text x="158" y="935" text-anchor="middle" font-size="37.6" font-weight="500" letter-spacing="3" fill="#000" stroke="#000" stroke-width="0.65" stroke-linejoin="round">身丈</text>
<text x="271.7" y="935" text-anchor="middle" font-size="38.2" font-weight="400" fill="#111" stroke="#fff" stroke-width="0.75">44</text>
<text x="368.7" y="935" text-anchor="middle" font-size="38.2" font-weight="400" fill="#111" stroke="#fff" stroke-width="0.75">51</text>
<text x="465.7" y="935" text-anchor="middle" font-size="38.2" font-weight="400" fill="#111" stroke="#fff" stroke-width="0.75">58</text>
<text x="562.7" y="935" text-anchor="middle" font-size="38.2" font-weight="400" fill="#111" stroke="#fff" stroke-width="0.75">63</text>
<text x="659.7" y="935" text-anchor="middle" font-size="38.2" font-weight="400" fill="#111" stroke="#fff" stroke-width="0.75">67</text>
<text x="756.7" y="935" text-anchor="middle" font-size="38.2" font-weight="400" fill="#111" stroke="#fff" stroke-width="0.75">71</text>
<text x="853.7" y="935" text-anchor="middle" font-size="38.2" font-weight="400" fill="#111" stroke="#fff" stroke-width="0.75">76</text>
<text x="950.7" y="935" text-anchor="middle" font-size="38.2" font-weight="400" fill="#111" stroke="#fff" stroke-width="0.75">81</text>
<text x="1047.7" y="935" text-anchor="middle" font-size="38.2" font-weight="400" fill="#111" stroke="#fff" stroke-width="0.75">84</text>
<text x="158" y="998.7" text-anchor="middle" font-size="37.6" font-weight="500" letter-spacing="3" fill="#000" stroke="#000" stroke-width="0.65" stroke-linejoin="round">身巾</text>
<text x="271.7" y="998.7" text-anchor="middle" font-size="38.2" font-weight="400" fill="#111" stroke="#fff" stroke-width="0.75">35</text>
<text x="368.7" y="998.7" text-anchor="middle" font-size="38.2" font-weight="400" fill="#111" stroke="#fff" stroke-width="0.75">40</text>
<text x="465.7" y="998.7" text-anchor="middle" font-size="38.2" font-weight="400" fill="#111" stroke="#fff" stroke-width="0.75">47</text>
<text x="562.7" y="998.7" text-anchor="middle" font-size="38.2" font-weight="400" fill="#111" stroke="#fff" stroke-width="0.75">52</text>
<text x="659.7" y="998.7" text-anchor="middle" font-size="38.2" font-weight="400" fill="#111" stroke="#fff" stroke-width="0.75">55</text>
<text x="756.7" y="998.7" text-anchor="middle" font-size="38.2" font-weight="400" fill="#111" stroke="#fff" stroke-width="0.75">58</text>
<text x="853.7" y="998.7" text-anchor="middle" font-size="38.2" font-weight="400" fill="#111" stroke="#fff" stroke-width="0.75">63</text>
<text x="950.7" y="998.7" text-anchor="middle" font-size="38.2" font-weight="400" fill="#111" stroke="#fff" stroke-width="0.75">68</text>
<text x="1047.7" y="998.7" text-anchor="middle" font-size="38.2" font-weight="400" fill="#111" stroke="#fff" stroke-width="0.75">73</text>
<text x="158" y="1064.5" text-anchor="middle" font-size="37.6" font-weight="500" letter-spacing="3" fill="#000" stroke="#000" stroke-width="0.65" stroke-linejoin="round">肩巾</text>
<text x="271.7" y="1064.5" text-anchor="middle" font-size="38.2" font-weight="400" fill="#111" stroke="#fff" stroke-width="0.75">29</text>
<text x="368.7" y="1064.5" text-anchor="middle" font-size="38.2" font-weight="400" fill="#111" stroke="#fff" stroke-width="0.75">35</text>
<text x="465.7" y="1064.5" text-anchor="middle" font-size="38.2" font-weight="400" fill="#111" stroke="#fff" stroke-width="0.75">40</text>
<text x="562.7" y="1064.5" text-anchor="middle" font-size="38.2" font-weight="400" fill="#111" stroke="#fff" stroke-width="0.75">44</text>
<text x="659.7" y="1064.5" text-anchor="middle" font-size="38.2" font-weight="400" fill="#111" stroke="#fff" stroke-width="0.75">48</text>
<text x="756.7" y="1064.5" text-anchor="middle" font-size="38.2" font-weight="400" fill="#111" stroke="#fff" stroke-width="0.75">52</text>
<text x="853.7" y="1064.5" text-anchor="middle" font-size="38.2" font-weight="400" fill="#111" stroke="#fff" stroke-width="0.75">55</text>
<text x="950.7" y="1064.5" text-anchor="middle" font-size="38.2" font-weight="400" fill="#111" stroke="#fff" stroke-width="0.75">58</text>
<text x="1047.7" y="1064.5" text-anchor="middle" font-size="38.2" font-weight="400" fill="#111" stroke="#fff" stroke-width="0.75">61</text>
<text x="158" y="1128" text-anchor="middle" font-size="37.6" font-weight="500" letter-spacing="3" fill="#000" stroke="#000" stroke-width="0.65" stroke-linejoin="round">袖丈</text>
<text x="271.7" y="1128" text-anchor="middle" font-size="38.2" font-weight="400" fill="#111" stroke="#fff" stroke-width="0.75">40</text>
<text x="368.7" y="1128" text-anchor="middle" font-size="38.2" font-weight="400" fill="#111" stroke="#fff" stroke-width="0.75">45</text>
<text x="465.7" y="1128" text-anchor="middle" font-size="38.2" font-weight="400" fill="#111" stroke="#fff" stroke-width="0.75">53</text>
<text x="562.7" y="1128" text-anchor="middle" font-size="38.2" font-weight="400" fill="#111" stroke="#fff" stroke-width="0.75">57</text>
<text x="659.7" y="1128" text-anchor="middle" font-size="38.2" font-weight="400" fill="#111" stroke="#fff" stroke-width="0.75">59</text>
<text x="756.7" y="1128" text-anchor="middle" font-size="38.2" font-weight="400" fill="#111" stroke="#fff" stroke-width="0.75">60</text>
<text x="853.7" y="1128" text-anchor="middle" font-size="38.2" font-weight="400" fill="#111" stroke="#fff" stroke-width="0.75">61</text>
<text x="950.7" y="1128" text-anchor="middle" font-size="38.2" font-weight="400" fill="#111" stroke="#fff" stroke-width="0.75">61</text>
<text x="1047.7" y="1128" text-anchor="middle" font-size="38.2" font-weight="400" fill="#111" stroke="#fff" stroke-width="0.75">64</text>
</g>
</svg>
</body>
</html>
